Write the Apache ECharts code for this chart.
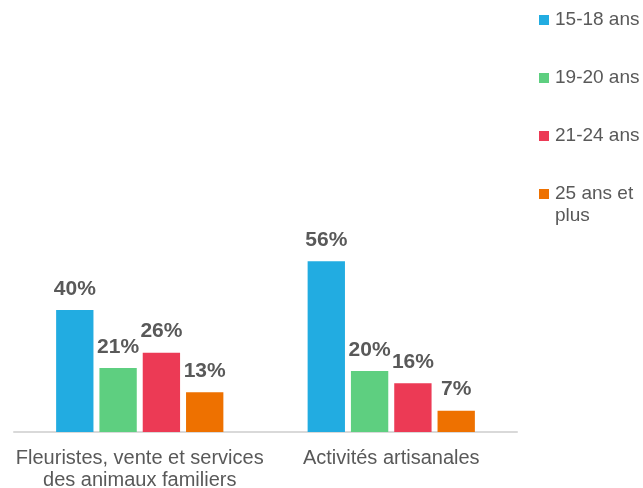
<!DOCTYPE html>
<html>
<head>
<meta charset="utf-8">
<script src="https://cdn.jsdelivr.net/npm/echarts@6/dist/echarts.min.js"></script>
<style>
  html, body { margin: 0; padding: 0; background: #ffffff; }
  #chart { width: 643px; height: 488px; }
</style>
</head>
<body>
<div id="chart"></div>
<script>
// Secteurs et répartition par tranche d'âge (en %)
const categories = ['Fleuristes, vente et services\ndes animaux familiers', 'Activités artisanales'];
const seriesNames = ['15-18 ans', '19-20 ans', '21-24 ans', '25 ans et plus'];
const age15to18 = [40, 56];
const age19to20 = [21, 20];
const age21to24 = [26, 16];
const age25plus = [13, 7];

const seriesValues = [age15to18, age19to20, age21to24, age25plus];
const colors = ['#22ace1', '#5ecf80', '#ec3a55', '#ee7100'];
const textColor = '#595959';
const fontFamily = '"Liberation Sans", Arial, sans-serif';

// One legend block per series so each entry sits on its own row.
// The last name wraps onto two lines; a leading empty line keeps its
// first line level with the colour square.
const legendCenters = [20, 78, 136, 194];
const legendLineHeight = 22;
const legends = seriesNames.map((name, i) => {
  const twoLines = name === '25 ans et plus';
  return {
    data: [name],
    orient: 'vertical',
    left: 539,
    top: twoLines ? legendCenters[i] - legendLineHeight * 1.5 : legendCenters[i] - legendLineHeight / 2,
    padding: 0,
    itemWidth: 10,
    itemHeight: 10,
    icon: 'rect',
    selectedMode: false,
    formatter: (n) => n === '25 ans et plus' ? ' \n25 ans et\nplus' : n,
    textStyle: {
      color: textColor,
      fontFamily: fontFamily,
      fontSize: 19,
      lineHeight: legendLineHeight,
      padding: [0, 0, 0, 1]
    }
  };
});

const chart = echarts.init(document.getElementById('chart'), null, { renderer: 'canvas' });
chart.setOption({
  animation: false,
  backgroundColor: '#ffffff',
  color: colors,
  legend: legends,
  grid: { left: 14, right: 126, top: 249, bottom: 56, containLabel: false, outerBoundsMode: 'none' },
  xAxis: {
    type: 'category',
    data: categories,
    axisLine: { show: true, lineStyle: { color: '#d9d9d9', width: 2 } },
    axisTick: { show: false },
    axisLabel: {
      color: textColor,
      fontFamily: fontFamily,
      fontSize: 20,
      lineHeight: 22,
      margin: 15,
      interval: 0
    }
  },
  yAxis: {
    type: 'value',
    min: 0,
    max: 60,
    show: false,
    splitLine: { show: false }
  },
  series: seriesNames.map((name, i) => ({
    name: name,
    type: 'bar',
    data: seriesValues[i],
    barGap: '16%',
    barCategoryGap: '33.5%',
    itemStyle: { color: colors[i] },
    label: {
      show: true,
      position: 'top',
      distance: 9,
      formatter: '{c}%',
      color: textColor,
      fontFamily: fontFamily,
      fontSize: 21,
      fontWeight: 'bold',
      lineHeight: 24
    }
  }))
});
</script>
</body>
</html>
